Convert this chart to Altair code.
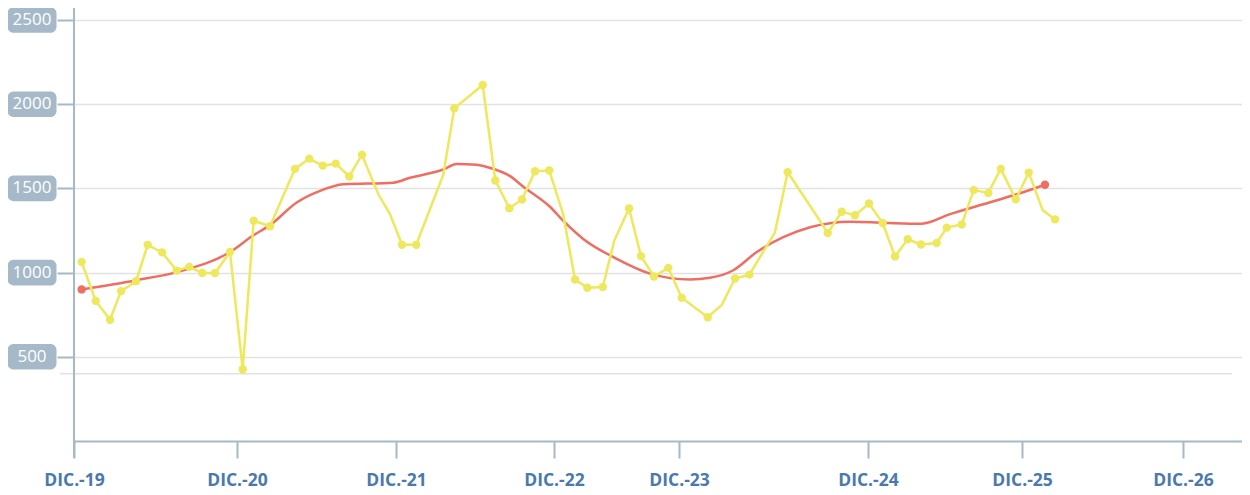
import altair as alt
import pandas as pd

# ---- Data (x in months from the first axis tick) ----
yel_pos = [0.57, 1.62, 2.69, 3.51, 4.63, 5.50, 6.57, 7.66, 8.60, 9.57, 10.52, 11.64, 12.59, 13.41,
           14.63, 16.49, 17.56, 18.56, 19.53, 20.54, 21.49, 22.71, 23.58, 24.48, 25.54, 26.53,
           27.56, 28.38, 30.50, 31.44, 32.49, 33.43, 34.40, 35.47, 36.50, 37.39, 38.31, 39.46,
           40.32, 41.42, 42.31, 43.28, 44.35, 45.35, 47.29, 48.34, 49.33, 50.40, 52.31, 53.26,
           55.17, 56.25, 57.29, 58.28, 59.33, 60.35, 61.27, 62.22, 63.21, 64.38, 65.13, 66.25,
           67.14, 68.23, 69.16, 70.28, 71.25, 72.29, 73.21]
yel_val = [1063, 832, 720, 890, 949, 1165, 1120, 1012, 1034, 998, 998, 1122, 426, 1308,
           1275, 1616, 1677, 1635, 1647, 1571, 1700, 1465, 1347, 1165, 1165, 1370,
           1582, 1975, 2114, 1547, 1382, 1434, 1602, 1606, 1347, 959, 910, 914,
           1190, 1381, 1098, 977, 1028, 851, 735, 808, 965, 988, 1239, 1596,
           1367, 1235, 1361, 1341, 1410, 1294, 1096, 1198, 1167, 1176, 1267, 1286,
           1490, 1473, 1616, 1435, 1594, 1371, 1316]
yel_marker = [1, 1, 1, 1, 1, 1, 1, 1, 1, 1, 1, 1, 1, 1,
              1, 1, 1, 1, 1, 1, 1, 0, 0, 1, 1, 0,
              0, 1, 1, 1, 1, 1, 1, 1, 0, 1, 1, 1,
              0, 1, 1, 1, 1, 1, 1, 0, 1, 1, 0, 1,
              0, 1, 1, 1, 1, 1, 1, 1, 1, 1, 1, 1,
              1, 1, 1, 1, 1, 0, 1]

red_pos = [0.57, 4.68, 7.66, 11.64, 13.36, 14.63, 16.62, 18.36, 20.10, 23.83, 25.07, 27.56,
           28.56, 30.05, 31.29, 32.54, 33.53, 35.52, 36.50, 38.00, 40.50, 42.99, 45.97, 47.46,
           49.20, 50.95, 52.93, 54.93, 57.91, 60.40, 63.26, 65.37, 67.86, 70.35, 72.46]
red_val = [900, 955, 1003, 1122, 1220, 1282, 1416, 1485, 1524, 1534, 1563, 1612,
           1645, 1641, 1616, 1573, 1510, 1391, 1308, 1200, 1082, 994, 959, 969,
           1014, 1122, 1210, 1269, 1302, 1296, 1290, 1347, 1406, 1465, 1522]

x_tick_pos = [0, 12.16, 24.03, 35.82, 45.15, 59.25, 70.75, 82.76]
x_tick_lab = ["DIC.-19", "DIC.-20", "DIC.-21", "DIC.-22", "DIC.-23", "DIC.-24", "DIC.-25", "DIC.-26"]
y_ticks = [500, 1000, 1500, 2000, 2500]
ref_value = 400

# ---- Styling ----
W, H = 1168, 421
PX_PER_MONTH = 13.4
AXIS_COL = "#a6b9c8"
LABEL_COL = "#4a79ad"
GRID_COL = "#e2e2e2"
YELLOW = "#eee85c"
RED = "#ef6e62"
FONT = "Open Sans"
BADGE_HALF = 12.8 * 2500 / H  # half badge height in data units

yel = pd.DataFrame({"pos": yel_pos, "val": yel_val, "marker": yel_marker})
red = pd.DataFrame({"pos": red_pos, "val": red_val})
red["end"] = [1 if i in (0, len(red) - 1) else 0 for i in range(len(red))]
badges = pd.DataFrame({"pos": [0] * len(y_ticks), "val": y_ticks})
ref = pd.DataFrame({"val": [ref_value]})

xscale = alt.Scale(domain=[0, W / PX_PER_MONTH], nice=False, zero=False)
yscale = alt.Scale(domain=[0, 2500], nice=False, zero=True)

vals_js = "[" + ",".join(str(v) for v in x_tick_pos) + "]"
labs_js = "[" + ",".join("'" + s + "'" for s in x_tick_lab) + "]"
label_expr = labs_js + "[indexof(" + vals_js + ", datum.value)]"

x_axis = alt.Axis(
    values=x_tick_pos, labelExpr=label_expr, title=None, grid=False,
    domainColor=AXIS_COL, domainWidth=2, tickColor=AXIS_COL, tickWidth=2, tickSize=17,
    labelColor=LABEL_COL, labelFont=FONT, labelFontSize=17.5, labelFontWeight="bold",
    labelPadding=13, labelFlush=False, labelOverlap=False,
)
y_axis = alt.Axis(
    values=y_ticks, labels=False, title=None, domain=False, grid=True,
    gridColor=GRID_COL, gridWidth=1.5, tickColor=AXIS_COL, tickWidth=2, tickSize=17,
)

# axis carrier (invisible, uses same fields)
axes_layer = alt.Chart(yel).mark_line(opacity=0).encode(
    x=alt.X("pos:Q", scale=xscale, axis=x_axis),
    y=alt.Y("val:Q", scale=yscale, axis=y_axis),
)

red_line = alt.Chart(red).mark_line(
    interpolate="monotone", color=RED, strokeWidth=2.5
).encode(x="pos:Q", y="val:Q")
red_dots = alt.Chart(red).mark_circle(color=RED, size=70, opacity=1).encode(
    x="pos:Q", y="val:Q"
).transform_filter("datum.end == 1")

yel_line = alt.Chart(yel).mark_line(color=YELLOW, strokeWidth=2.5).encode(
    x="pos:Q", y="val:Q"
)
yel_dots = alt.Chart(yel).mark_circle(color=YELLOW, size=70, opacity=1).encode(
    x="pos:Q", y="val:Q"
).transform_filter("datum.marker == 1")

ref_rule = alt.Chart(ref).mark_rule(color=GRID_COL, strokeWidth=1.5).encode(
    y="val:Q", x=alt.value(-14), x2=alt.value(W - 10),
)

y_domain = alt.Chart(ref).mark_rule(color=AXIS_COL, strokeWidth=2).encode(
    x=alt.value(0), y=alt.value(-15), y2=alt.value(H + 17),
)

badge_rect = alt.Chart(badges).transform_calculate(
    lo=f"datum.val - {BADGE_HALF}", hi=f"datum.val + {BADGE_HALF}"
).mark_rect(color=AXIS_COL, cornerRadius=6).encode(
    x=alt.value(-66.5), x2=alt.value(-17.5),
    y=alt.Y("lo:Q"), y2="hi:Q",
)
badge_text = alt.Chart(badges).mark_text(
    color="white", font=FONT, fontSize=17, align="center", baseline="middle"
).encode(
    x=alt.value(-42),
    y="val:Q",
    text=alt.Text("val:Q", format="d"),
)

chart = alt.layer(
    axes_layer, red_line, ref_rule, y_domain, yel_line, yel_dots, red_dots, badge_rect, badge_text
).properties(
    width=W, height=H,
    padding={"left": 66, "top": 12, "right": 0, "bottom": 50},
    autosize=alt.AutoSizeParams(type="none"),
).configure_view(stroke=None).configure(background="white")

chart.save("out.html", embed_options={"renderer": "svg", "actions": False})
